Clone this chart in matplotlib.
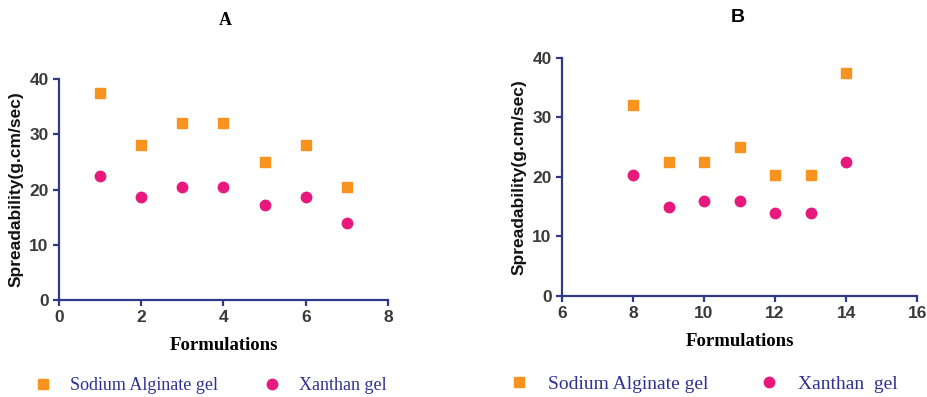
import matplotlib.pyplot as plt
import numpy as np

# spreadability of the two gel bases, formulations 1-7 and 8-14
form_a = [1, 2, 3, 4, 5, 6, 7]
alginate_a = [37.5, 28.1, 32.0, 32.0, 25.0, 28.1, 20.4]
xanthan_a = [22.5, 18.7, 20.4, 20.4, 17.2, 18.7, 14.0]

form_b = [8, 9, 10, 11, 12, 13, 14]
alginate_b = [32.0, 22.5, 22.5, 25.0, 20.4, 20.4, 37.5]
xanthan_b = [20.4, 15.0, 16.0, 16.0, 14.0, 14.0, 22.5]

orange = '#f7931e'
pink = '#e8197d'
navy = '#2e3a87'
text_navy = '#2e3192'
tick_grey = '#3a3a3a'


def style_axes(ax, xticks, xlim):
    for side in ['top', 'right']:
        ax.spines[side].set_visible(False)
    for side in ['left', 'bottom']:
        ax.spines[side].set_color(navy)
        ax.spines[side].set_linewidth(1.6)
    ax.set_xlim(xlim)
    ax.set_ylim(0, 40)
    ax.set_xticks(xticks)
    ax.set_yticks([0, 10, 20, 30, 40])
    ax.tick_params(direction='out', length=4, width=1.6, color=navy,
                   labelcolor=tick_grey, labelsize=12.5)
    for lab in ax.get_xticklabels() + ax.get_yticklabels():
        lab.set_fontweight('bold')
        lab.set_family('Liberation Sans')
    ax.set_xlabel('Formulations', family='Liberation Serif', fontweight='bold',
                  fontsize=13.5, labelpad=8)
    ax.set_ylabel('Spreadability(g.cm/sec)', family='Liberation Sans',
                  fontweight='bold', fontsize=12.5, color='#111111', labelpad=4)


fig = plt.figure(figsize=(9.27, 3.97), dpi=100)
ax1 = fig.add_axes([0.0636, 0.2443, 0.355, 0.5567])
ax2 = fig.add_axes([0.6063, 0.2544, 0.383, 0.600])

for ax, x, alg, xan in [(ax1, form_a, alginate_a, xanthan_a),
                        (ax2, form_b, alginate_b, xanthan_b)]:
    ax.plot(x, alg, 's', color=orange, markersize=7.5, clip_on=False)
    ax.plot(x, xan, 'o', color=pink, markersize=7.5, clip_on=False)

style_axes(ax1, [0, 2, 4, 6, 8], (0, 8))
style_axes(ax2, [6, 8, 10, 12, 14, 16], (6, 16))

fig.text(0.2427, 0.9496, 'A', family='Liberation Serif', fontweight='bold',
         fontsize=13, ha='center', va='center')
fig.text(0.796, 0.9547, 'B', family='Liberation Sans', fontweight='bold',
         fontsize=14, ha='center', va='center')

leg_kw = dict(loc='center', ncol=2, frameon=False, bbox_transform=fig.transFigure,
              handletextpad=0.9, handlelength=1.2)
leg1 = ax1.legend(['Sodium Alginate gel', 'Xanthan gel'],
                  bbox_to_anchor=(0.226, 0.028), columnspacing=2.4,
                  prop={'family': 'Liberation Serif', 'size': 13}, **leg_kw)
leg2 = ax2.legend(['Sodium Alginate gel', 'Xanthan  gel'],
                  bbox_to_anchor=(0.758, 0.033), columnspacing=2.5,
                  prop={'family': 'Liberation Serif', 'size': 14}, **leg_kw)
for leg in [leg1, leg2]:
    for t in leg.get_texts():
        t.set_color(text_navy)

fig.savefig('out.png', dpi=100, facecolor='white')
